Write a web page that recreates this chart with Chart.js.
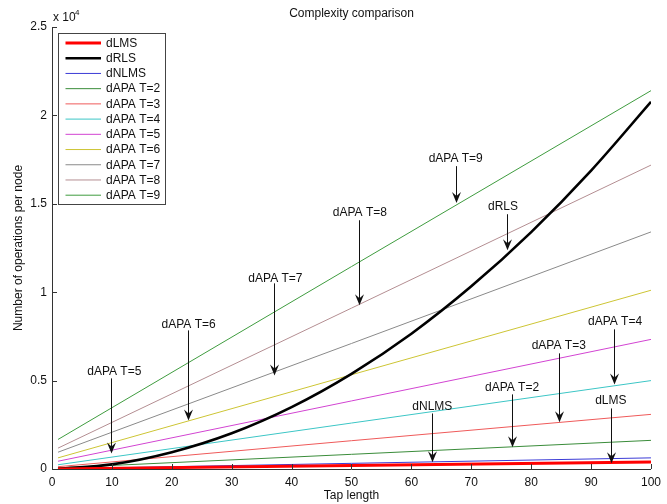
<!DOCTYPE html>
<html>
<head>
<meta charset="utf-8">
<script src="https://cdn.jsdelivr.net/npm/chart.js@4.4.1/dist/chart.umd.min.js"></script>
<style>
  html, body { margin: 0; padding: 0; background: #ffffff; }
  #c { display: block; }
</style>
</head>
<body>
<canvas id="c" width="667" height="504"></canvas>
<script>
// ---- Data ----
const taps = [1, 50, 100];                       // tap length (M) for straight lines
const opsLMS  = [5, 200, 400];
const opsNLMS = [10, 320, 630];
const opsAPA2 = [60, 830, 1620];
const opsAPA3 = [130, 1600, 3090];
const opsAPA4 = [240, 2600, 5000];
const opsAPA5 = [440, 3850, 7330];
const opsAPA6 = [630, 5330, 10110];
const opsAPA7 = [950, 7100, 13410];
const opsAPA8 = [1180, 9100, 17190];
const opsAPA9 = [1670, 11450, 21400];
const rlsTaps = [1, 10, 20, 30, 40, 50, 60, 70, 80, 90, 100];
const opsRLS  = [10, 260, 950, 2020, 3500, 5380, 7650, 10330, 13400, 16880, 20770];

const seriesNames = ['dLMS', 'dRLS', 'dNLMS', 'dAPA T=2', 'dAPA T=3', 'dAPA T=4',
                     'dAPA T=5', 'dAPA T=6', 'dAPA T=7', 'dAPA T=8', 'dAPA T=9'];
const xTickValues = [0, 10, 20, 30, 40, 50, 60, 70, 80, 90, 100];
const yTickValues = [0, 5000, 10000, 15000, 20000, 25000];

// Annotations: label, text position (tap, ops), arrow tap, arrow start/tip (ops)
const notes = [
  { text: 'dAPA T=5', tx: 10.4, ty: 5520,  ax: 9.9,  from: 5125,  to: 878 },
  { text: 'dAPA T=6', tx: 22.8, ty: 8180,  ax: 22.7, from: 7840,  to: 2745 },
  { text: 'dAPA T=7', tx: 37.3, ty: 10790, ax: 37.1, from: 10500, to: 5295 },
  { text: 'dAPA T=8', tx: 51.4, ty: 14485, ax: 51.3, from: 14070, to: 9260 },
  { text: 'dAPA T=9', tx: 67.4, ty: 17525, ax: 67.4, from: 17130, to: 15050 },
  { text: 'dRLS',     tx: 75.3, ty: 14825, ax: 76.0, from: 14410, to: 12370 },
  { text: 'dAPA T=4', tx: 94.0, ty: 8310,  ax: 93.9, from: 7900,  to: 4785 },
  { text: 'dAPA T=3', tx: 84.6, ty: 6955,  ax: 84.6, from: 6540,  to: 2650 },
  { text: 'dAPA T=2', tx: 76.8, ty: 4615,  ax: 76.8, from: 4220,  to: 1235 },
  { text: 'dNLMS',    tx: 63.5, ty: 3500,  ax: 63.4, from: 3140,  to: 385 },
  { text: 'dLMS',     tx: 93.3, ty: 3840,  ax: 93.3, from: 3425,  to: 330 }
];

// ---- Styles ----
const colors = ['#ff0000', '#000000', '#3b3bd6', '#3a8c3a', '#ef5a5a', '#3cc6c6',
                '#d244d2', '#cdc534', '#8a8a8a', '#b48e92', '#3f9c3f'];
const widths = [3, 2.6, 1, 1, 1, 1, 1, 1, 1, 1, 1];
const FONT = '"Liberation Sans", Arial, Helvetica, sans-serif';

function pts(xs, ys) { return xs.map((x, i) => ({ x: x, y: ys[i] })); }

const seriesData = [
  pts(taps, opsLMS), pts(rlsTaps, opsRLS), pts(taps, opsNLMS),
  pts(taps, opsAPA2), pts(taps, opsAPA3), pts(taps, opsAPA4),
  pts(taps, opsAPA5), pts(taps, opsAPA6), pts(taps, opsAPA7),
  pts(taps, opsAPA8), pts(taps, opsAPA9)
];

const datasets = seriesNames.map((name, i) => ({
  label: name,
  data: seriesData[i],
  borderColor: colors[i],
  backgroundColor: colors[i],
  borderWidth: widths[i],
  pointRadius: 0,
  tension: 0,
  cubicInterpolationMode: i === 1 ? 'monotone' : 'default',
  fill: false
}));

const decorPlugin = {
  id: 'decor',
  afterDraw(chart) {
    const ctx = chart.ctx;
    const xs = chart.scales.x, ys = chart.scales.y;
    const a = chart.chartArea;
    ctx.save();

    // inward ticks
    ctx.strokeStyle = '#333';
    ctx.lineWidth = 1;
    ctx.beginPath();
    xTickValues.forEach(v => {
      const px = Math.round(xs.getPixelForValue(v)) + 0.5;
      ctx.moveTo(px, a.bottom); ctx.lineTo(px, a.bottom - 5);
    });
    yTickValues.forEach(v => {
      const py = Math.round(ys.getPixelForValue(v)) + 0.5;
      ctx.moveTo(a.left, py); ctx.lineTo(a.left + 5, py);
    });
    ctx.stroke();

    // annotations
    ctx.fillStyle = '#111';
    ctx.font = '12px ' + FONT;
    ctx.textAlign = 'center';
    ctx.textBaseline = 'middle';
    notes.forEach(n => {
      const tx = xs.getPixelForValue(n.tx), ty = ys.getPixelForValue(n.ty);
      ctx.fillText(n.text, tx, ty);
      const ax = Math.round(xs.getPixelForValue(n.ax)) + 0.5;
      const y0 = ys.getPixelForValue(n.from), y1 = ys.getPixelForValue(n.to);
      ctx.strokeStyle = '#111';
      ctx.lineWidth = 1;
      ctx.beginPath();
      ctx.moveTo(ax, y0); ctx.lineTo(ax, y1 - 6);
      ctx.stroke();
      ctx.beginPath();
      ctx.moveTo(ax, y1);
      ctx.lineTo(ax - 4.5, y1 - 11);
      ctx.lineTo(ax, y1 - 7);
      ctx.lineTo(ax + 4.5, y1 - 11);
      ctx.closePath();
      ctx.fill();
    });

    // legend
    const lx0 = 58.5, ly0 = 33.5, lx1 = 165.5, ly1 = 204.5;
    ctx.fillStyle = '#fff';
    ctx.fillRect(lx0, ly0, lx1 - lx0, ly1 - ly0);
    ctx.strokeStyle = '#444';
    ctx.lineWidth = 1;
    ctx.strokeRect(lx0, ly0, lx1 - lx0, ly1 - ly0);
    ctx.textAlign = 'left';
    ctx.textBaseline = 'middle';
    chart.data.datasets.forEach((ds, i) => {
      const yy = 43 + i * 15.22;
      ctx.strokeStyle = ds.borderColor;
      ctx.lineWidth = ds.borderWidth;
      ctx.beginPath();
      ctx.moveTo(65.5, yy); ctx.lineTo(101, yy);
      ctx.stroke();
      ctx.fillStyle = '#111';
      ctx.fillText(ds.label, 106, yy + 0.5);
    });

    // title, axis titles, exponent
    ctx.fillStyle = '#111';
    ctx.textAlign = 'center';
    ctx.font = '12px ' + FONT;
    ctx.fillText('Complexity comparison', (a.left + a.right) / 2, 14);
    ctx.fillText('Tap length', (a.left + a.right) / 2, 496);
    ctx.save();
    ctx.translate(19, (a.top + a.bottom) / 2);
    ctx.rotate(-Math.PI / 2);
    ctx.fillText('Number of operations per node', 0, 0);
    ctx.restore();
    ctx.textAlign = 'left';
    ctx.fillText('x 10', 53, 18);
    ctx.font = '8px ' + FONT;
    ctx.fillText('4', 75, 13);
    ctx.restore();
  }
};

new Chart(document.getElementById('c'), {
  type: 'line',
  data: { datasets: datasets },
  options: {
    responsive: false,
    animation: false,
    events: [],
    layout: { padding: { top: 27, right: 10, left: 0, bottom: 0 } },
    plugins: { legend: { display: false }, tooltip: { enabled: false }, title: { display: false } },
    scales: {
      x: {
        type: 'linear', min: 0, max: 100,
        afterFit(s) { s.height = 35; },
        afterBuildTicks(s) { s.ticks = xTickValues.map(v => ({ value: v })); },
        ticks: { color: '#111', font: { family: FONT, size: 12 }, padding: 6, maxRotation: 0, autoSkip: false },
        grid: { display: false, drawTicks: false },
        border: { display: true, color: '#333', width: 1 }
      },
      y: {
        type: 'linear', min: 0, max: 25000,
        afterFit(s) { s.width = 52; },
        afterBuildTicks(s) { s.ticks = yTickValues.map(v => ({ value: v })); },
        ticks: { color: '#111', font: { family: FONT, size: 12 }, padding: 5,
                 callback: v => String(v / 10000) },
        grid: { display: false, drawTicks: false },
        border: { display: true, color: '#333', width: 1 }
      }
    }
  },
  plugins: [decorPlugin]
});
</script>
</body>
</html>
